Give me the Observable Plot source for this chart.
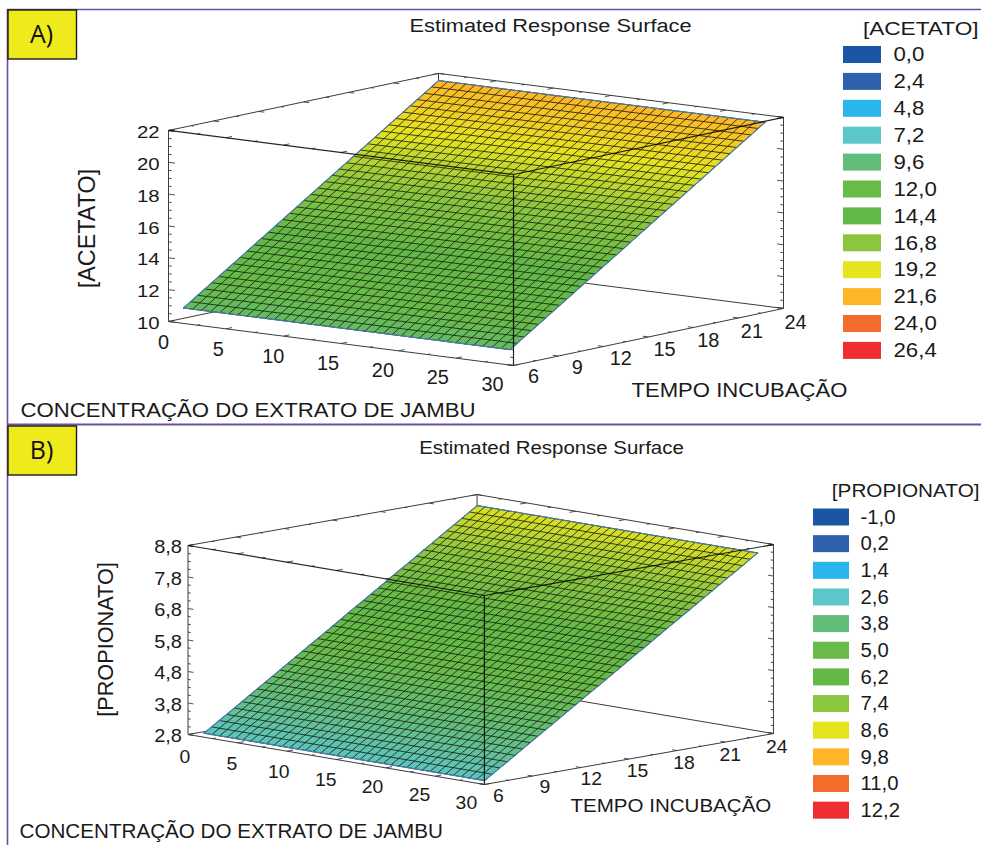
<!DOCTYPE html>
<html lang="pt">
<head>
<meta charset="utf-8">
<script src="https://cdn.jsdelivr.net/npm/d3@7"></script>
<script src="https://cdn.jsdelivr.net/npm/@observablehq/plot@0.6"></script>
<style>
html,body{margin:0;padding:0;background:#fff;overflow:hidden}
svg{display:block;overflow:visible}
</style>
</head>
<body>
<div id="chart"></div>
<script>
// ---- data ----
const titleText = "Estimated Response Surface";
const concTitle = "CONCENTRAÇÃO DO EXTRATO DE JAMBU";
const tempoTitle = "TEMPO INCUBAÇÃO";

const concTicks = [0, 5, 10, 15, 20, 25, 30];
const tempoTicks = [6, 9, 12, 15, 18, 21, 24];

const concGrid = [0,0.79,1.58,2.37,3.16,3.94,4.73,5.52,6.31,7.10,7.89,8.68,9.47,10.26,11.04,11.83,12.62,13.41,14.2,14.99,15.78,16.57,17.36,18.14,18.93,19.72,20.51,21.3,22.09,22.88,23.67,24.46,25.24,26.03,26.82,27.61,28.4];
const tempoGrid = [7,7.47,7.94,8.42,8.89,9.36,9.83,10.31,10.78,11.25,11.72,12.19,12.67,13.14,13.61,14.08,14.56,15.03,15.5,15.97,16.44,16.92,17.39,17.86,18.33,18.81,19.28,19.75,20.22,20.69,21.17,21.64,22.11,22.58,23.06,23.53,24];

const acetatoByTempo = [10.65,10.95,11.26,11.56,11.86,12.16,12.47,12.77,13.07,13.38,13.68,13.98,14.28,14.59,14.89,15.19,15.49,15.80,16.10,16.40,16.71,17.01,17.31,17.61,17.92,18.22,18.52,18.82,19.13,19.43,19.73,20.04,20.34,20.64,20.94,21.25,21.55];
const propionatoByTempo = [2.75,2.91,3.07,3.22,3.38,3.54,3.70,3.86,4.02,4.17,4.33,4.49,4.65,4.81,4.97,5.12,5.28,5.44,5.60,5.76,5.92,6.07,6.23,6.39,6.55,6.71,6.87,7.02,7.18,7.34,7.50,7.66,7.82,7.97,8.13,8.29,8.45];

const acetatoZTicks = [10, 12, 14, 16, 18, 20, 22];
const acetatoZLabels = ["10", "12", "14", "16", "18", "20", "22"];
const propionatoZTicks = [2.8, 3.8, 4.8, 5.8, 6.8, 7.8, 8.8];
const propionatoZLabels = ["2,8", "3,8", "4,8", "5,8", "6,8", "7,8", "8,8"];

const acetatoLegendValues = [0, 2.4, 4.8, 7.2, 9.6, 12, 14.4, 16.8, 19.2, 21.6, 24, 26.4];
const acetatoLegendLabels = ["0,0", "2,4", "4,8", "7,2", "9,6", "12,0", "14,4", "16,8", "19,2", "21,6", "24,0", "26,4"];
const propionatoLegendValues = [-1, 0.2, 1.4, 2.6, 3.8, 5, 6.2, 7.4, 8.6, 9.8, 11, 12.2];
const propionatoLegendLabels = ["-1,0", "0,2", "1,4", "2,6", "3,8", "5,0", "6,2", "7,4", "8,6", "9,8", "11,0", "12,2"];
const legendColors = ["#1b56a5", "#2f62ad", "#2ab5ec", "#5cc6c9", "#62bd7b", "#67bb46", "#63b946", "#8cc63f", "#e6e41f", "#feb526", "#f36c2c", "#ee2e31"];

// ---- layout of the two panels (page pixels); text sizes are [font size, horizontal stretch] ----
const FONT = "Liberation Sans, Arial, sans-serif";
const INK = "#1a1a1a", BORDER = "#6a4fa3", FRAME = "#3c3c3c", BADGE = "#eeea1c";
const panels = [
  { badge: "A)", top: 0, bottom: 424, borderY: 9, badgeY: [10, 59],
    origin: [168, 321], cPx: [11.5, 1.467], tPx: [15, -3.17], zPx: 15.92, z0: 10, zTop: 22, zStep: 2, zMinor: 0.5,
    zTicks: acetatoZTicks, zLabels: acetatoZLabels, zByTempo: acetatoByTempo, zName: "[ACETATO]",
    zLabelDx: -9, cOff: c => [-5 - c * 0.53, 21 - c * 0.07], tOff: t => [20 - (t - 6) * 0.44, 11 + (t - 6) * 0.167],
    zTickFont: [17.4, 1.17], axisTickFont: [19.5, 1.02],
    title: [550, 26, 18, 1.21], zTitle: [87, 228, 23.4, 1], cTitle: [20, 410, 19.3, 1.15], tTitle: [631, 390, 19.3, 1.145],
    legendFont: [19.5, 1.14], legendValues: acetatoLegendValues, legendLabels: acetatoLegendLabels,
    legendX: 843, legendW: 38, legendY: 54.5, legendStep: 26.9,
    legendTextX: 893, legendTitle: [978, 28, 19, 1.19] },
  { badge: "B)", top: 424, bottom: 845, borderY: 424, badgeY: [426, 475],
    origin: [187.5, 734], cPx: [9.88, 1.667], tPx: [16.06, -2.83], zPx: 31.5, z0: 2.8, zTop: 8.8, zStep: 1, zMinor: 0.25,
    zTicks: propionatoZTicks, zLabels: propionatoZLabels, zByTempo: propionatoByTempo, zName: "[PROPIONATO]",
    zLabelDx: -6, cOff: c => [-3 - c * 0.5, 22 - c * 0.133], tOff: t => [14 - (t - 6) * 0.6, 11 + (t - 6) * 0.11],
    zTickFont: [18.2, 1.1], axisTickFont: [19, 1.02],
    title: [551, 448, 17.5, 1.167], zTitle: [106, 639, 21.7, 1], cTitle: [19, 831, 19.3, 1.07], tTitle: [570, 806, 18.5, 1.11],
    legendFont: [19.5, 1.04], legendValues: propionatoLegendValues, legendLabels: propionatoLegendLabels,
    legendX: 813, legendW: 36, legendY: 517, legendStep: 26.65,
    legendTextX: 860, legendTitle: [979, 490, 19, 1.09] }
];

// marks carry their stretch in a class name; it is applied once the text can be measured
const stretch = k => `stretch-${Math.round(k * 1000)}`;

function drawPanel(p) {
  const project = (c, t, z) => ({
    x: p.origin[0] + c * p.cPx[0] + (t - 6) * p.tPx[0],
    y: p.origin[1] + c * p.cPx[1] + (t - 6) * p.tPx[1] - (z - p.z0) * p.zPx
  });
  const seg = (a, b) => { const A = project(...a), B = project(...b); return { x1: A.x, y1: A.y, x2: B.x, y2: B.y }; };
  const { z0, zTop } = p;

  // surface cells, one polygon per grid cell
  const cells = [];
  for (let i = 0; i < tempoGrid.length - 1; i++) {
    const value = (p.zByTempo[i] + p.zByTempo[i + 1]) / 2;
    for (let j = 0; j < concGrid.length - 1; j++) {
      const id = i * 1000 + j;
      [[j, i], [j + 1, i], [j + 1, i + 1], [j, i + 1], [j, i]].forEach(([cj, ti]) => {
        cells.push({ id, value, ...project(concGrid[cj], tempoGrid[ti], p.zByTempo[ti]) });
      });
    }
  }
  // mesh lines
  const rowLines = [], colLines = [];
  tempoGrid.forEach((t, i) => concGrid.forEach(c => rowLines.push({ id: i, ...project(c, t, p.zByTempo[i]) })));
  concGrid.forEach((c, j) => tempoGrid.forEach((t, i) => colLines.push({ id: j, ...project(c, t, p.zByTempo[i]) })));
  // outline
  const last = concGrid.length - 1, lastT = tempoGrid.length - 1;
  const outline = [];
  [[0, 0], [last, 0], [last, lastT], [0, lastT], [0, 0]].forEach(([j, i]) =>
    outline.push(project(concGrid[j], tempoGrid[i], p.zByTempo[i])));

  // box edges: behind and in front of the surface
  const backEdges = [
    seg([0, 6, z0], [0, 24, z0]), seg([0, 24, z0], [30, 24, z0]),
    seg([0, 6, z0], [30, 6, z0]), seg([30, 6, z0], [30, 24, z0]),
    seg([0, 6, z0], [0, 6, zTop]), seg([30, 24, z0], [30, 24, zTop]), seg([0, 24, z0], [0, 24, zTop]),
    seg([0, 6, zTop], [0, 24, zTop]), seg([0, 24, zTop], [30, 24, zTop])
  ];
  const frontEdges = [
    seg([0, 6, zTop], [30, 6, zTop]), seg([30, 6, zTop], [30, 24, zTop]), seg([30, 6, z0], [30, 6, zTop])
  ];
  // tick marks on the box
  const ticks = [];
  const nz = Math.round((zTop - z0) / p.zMinor);
  for (let k = 0; k <= nz; k++) {
    const z = z0 + k * p.zMinor;
    const major = k % Math.round(p.zStep / p.zMinor) === 0;
    const d = major ? 0.55 : 0.28;
    ticks.push(seg([0, 6, z], [d, 6, z]), seg([30, 24, z], [30 - d, 24, z]), seg([30, 6, z], [30 - d, 6, z]));
  }
  for (let k = 0; k <= 12; k++) {
    const c = k * 2.5, d = k % 2 === 0 ? 0.4 : 0.2;
    ticks.push(seg([c, 6, z0], [c, 6 + d, z0]), seg([c, 6, zTop], [c, 6 + d, zTop]), seg([c, 24, zTop], [c, 24 - d, zTop]));
  }
  for (let k = 0; k <= 12; k++) {
    const t = 6 + k * 1.5, d = k % 2 === 0 ? 0.5 : 0.25;
    ticks.push(seg([30, t, z0], [30 - d, t, z0]), seg([30, t, zTop], [30 - d, t, zTop]), seg([0, t, zTop], [d, t, zTop]));
  }

  const textBase = { fontFamily: FONT, fill: INK, stroke: "none" };
  const legendRows = p.legendValues.map((v, i) => ({
    v, label: p.legendLabels[i], y: p.legendY + i * p.legendStep
  }));

  return Plot.plot({
    width: 981,
    height: p.bottom - p.top,
    margin: 0,
    style: { background: "transparent" },
    x: { domain: [0, 981], range: [0, 981], axis: null },
    y: { domain: [p.top, p.bottom], range: [0, p.bottom - p.top], axis: null },
    color: { type: "linear", domain: p.legendValues, range: legendColors, clamp: true, legend: false },
    marks: [
      // page frame
      Plot.ruleY([p.borderY], { x1: 7, x2: 981, stroke: BORDER, strokeWidth: p.top ? 2 : 1.4 }),
      Plot.ruleX([7], { y1: p.borderY, y2: p.bottom, stroke: BORDER, strokeWidth: 1.6 }),
      Plot.rect([p.badge], { x1: () => 8, x2: () => 76.5, y1: () => p.badgeY[0], y2: () => p.badgeY[1], fill: BADGE, stroke: "#1c1c1c", strokeWidth: 1.4 }),
      Plot.text([p.badge], { x: () => 41, y: () => (p.badgeY[0] + p.badgeY[1]) / 2, text: d => d, fontFamily: "Open Sans, Noto Sans, sans-serif", fontSize: 25, fill: "#111" }),

      // box behind the surface
      Plot.link(backEdges, { x1: "x1", y1: "y1", x2: "x2", y2: "y2", stroke: FRAME, strokeWidth: 1 }),
      Plot.link(ticks, { x1: "x1", y1: "y1", x2: "x2", y2: "y2", stroke: FRAME, strokeWidth: 0.9 }),

      // surface
      Plot.line(cells, { x: "x", y: "y", z: "id", fill: "value", stroke: "value", strokeWidth: 0.5 }),
      Plot.line(rowLines, { x: "x", y: "y", z: "id", stroke: "#12160a", strokeWidth: 0.95, strokeOpacity: 0.85 }),
      Plot.line(colLines, { x: "x", y: "y", z: "id", stroke: "#12160a", strokeWidth: 0.95, strokeOpacity: 0.85 }),
      Plot.line(outline, { x: "x", y: "y", stroke: "#4a7fb5", strokeWidth: 1.1 }),

      // box in front of the surface
      Plot.link(frontEdges, { x1: "x1", y1: "y1", x2: "x2", y2: "y2", stroke: "#000", strokeWidth: 1.2, strokeOpacity: 0.85 }),

      // axis labels
      Plot.text(p.zTicks, { ...textBase, className: stretch(p.zTickFont[1]), x: z => project(0, 6, z).x + p.zLabelDx, y: z => project(0, 6, z).y + 2, text: (z, i) => p.zLabels[i], textAnchor: "end", fontSize: p.zTickFont[0] }),
      Plot.text(concTicks, { ...textBase, className: stretch(p.axisTickFont[1]), x: c => project(c, 6, z0).x + p.cOff(c)[0], y: c => project(c, 6, z0).y + p.cOff(c)[1], text: String, fontSize: p.axisTickFont[0] }),
      Plot.text(tempoTicks, { ...textBase, className: stretch(p.axisTickFont[1]), x: t => project(30, t, z0).x + p.tOff(t)[0], y: t => project(30, t, z0).y + p.tOff(t)[1], text: String, fontSize: p.axisTickFont[0] }),

      // titles
      Plot.text([titleText], { ...textBase, className: stretch(p.title[3]), x: () => p.title[0], y: () => p.title[1], text: d => d, fontSize: p.title[2] }),
      Plot.text([p.zName], { ...textBase, x: () => p.zTitle[0], y: () => p.zTitle[1], text: d => d, rotate: -90, fontSize: p.zTitle[2] }),
      Plot.text([concTitle], { ...textBase, className: stretch(p.cTitle[3]), x: () => p.cTitle[0], y: () => p.cTitle[1], text: d => d, textAnchor: "start", fontSize: p.cTitle[2] }),
      Plot.text([tempoTitle], { ...textBase, className: stretch(p.tTitle[3]), x: () => p.tTitle[0], y: () => p.tTitle[1], text: d => d, textAnchor: "start", fontSize: p.tTitle[2] }),

      // legend
      Plot.text([p.zName], { ...textBase, className: stretch(p.legendTitle[3]), x: () => p.legendTitle[0], y: () => p.legendTitle[1], text: d => d, textAnchor: "end", fontSize: p.legendTitle[2] }),
      Plot.rect(legendRows, { x1: () => p.legendX, x2: () => p.legendX + p.legendW, y1: d => d.y - 8.5, y2: d => d.y + 8.5, fill: "v" }),
      Plot.text(legendRows, { ...textBase, className: stretch(p.legendFont[1]), x: () => p.legendTextX, y: "y", text: "label", textAnchor: "start", fontSize: p.legendFont[0] })
    ]
  });
}

const root = document.getElementById("chart");
panels.forEach(p => root.appendChild(drawPanel(p)));

// widen the text to the proportions of the reference (it was stretched when scanned)
root.querySelectorAll("g[class*='stretch-'] text").forEach(node => {
  const name = [...node.closest("g[class*='stretch-']").classList].find(c => c.startsWith("stretch-"));
  const k = +name.slice(8) / 1000;
  node.setAttribute("textLength", node.getComputedTextLength() * k);
  node.setAttribute("lengthAdjust", "spacingAndGlyphs");
});
</script>
</body>
</html>
